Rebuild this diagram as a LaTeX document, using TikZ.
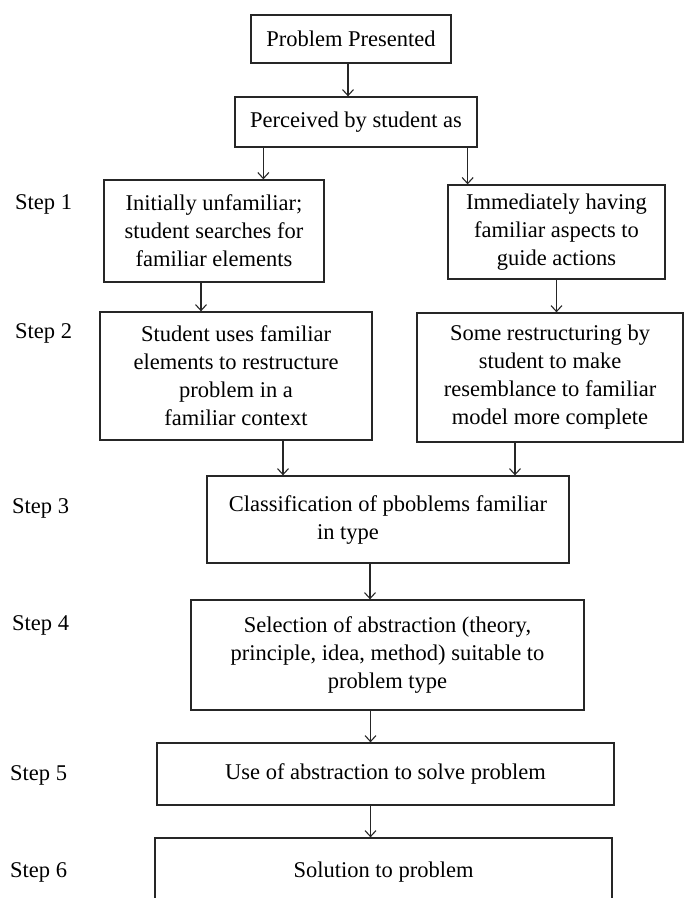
\documentclass[tikz,border=0pt]{standalone}
\usepackage{fontspec}
\setmainfont{Liberation Serif}
\usepackage{tikz}
\usetikzlibrary{arrows.meta, positioning}

\newcommand{\flowsize}{\fontsize{22.5}{28}\selectfont}

\begin{document}
\begin{tikzpicture}[x=1pt, y=-1pt, font=\flowsize,
  box/.style={draw=black!85, line width=1.3pt, inner sep=0pt, align=center},
  steplabel/.style={anchor=west, inner sep=0pt},
  arr/.style={-{Straight Barb[length=6pt,width=11pt]}, line width=1.1pt, draw=black!85}]
\useasboundingbox (0,0) rectangle (685,898);
\clip (0,0) rectangle (685,898);

% boxes
\node[box, minimum width=200, minimum height=48] (pp) at (351,39) {Problem Presented};
\node[box, minimum width=242, minimum height=50] (perc) at (356,122) {Perceived by student as};

\node[box, minimum width=220, minimum height=102] (unfam) at (214,231)
  {Initially unfamiliar;\\student searches for\\familiar elements};
\node[box, minimum width=217, minimum height=94] (famil) at (556.5,232)
  {Immediately having\\familiar aspects to\\guide actions};

\node[box, minimum width=272, minimum height=128] (uses) at (236,376)
  {Student uses familiar\\elements to restructure\\problem in a\\familiar context};
\node[box, minimum width=266, minimum height=129] (restr) at (550,377.5)
  {Some restructuring by\\student to make\\resemblance to familiar\\model more complete};

\node[box, minimum width=362, minimum height=87] (classif) at (388,519.5)
  {Classification of pboblems familiar\\in type\hspace*{80pt}};
\node[box, minimum width=393, minimum height=110] (select) at (387.5,655)
  {Selection of abstraction (theory,\\principle, idea, method) suitable to\\problem type};
\node[box, minimum width=457, minimum height=62] (useabs) at (385.5,774)
  {Use of abstraction to solve problem};
\node[box, minimum width=457, minimum height=68] (sol) at (383.5,872)
  {Solution to problem};

% step labels
\node[steplabel] (s1) at (15,204) {Step 1};
\node[steplabel] (s2) at (15,333) {Step 2};
\node[steplabel] (s3) at (12,508) {Step 3};
\node[steplabel] (s4) at (12,625) {Step 4};
\node[steplabel] (s5) at (10,775) {Step 5};
\node[steplabel] (s6) at (10,872) {Step 6};

% arrows
\draw[arr] ([xshift=-3pt]pp.south) -- ([xshift=-3pt]pp.south |- perc.north);
\draw[arr] ([xshift=29pt]perc.south west) -- ([xshift=29pt]perc.south west |- unfam.north);
\draw[arr] ([xshift=-10pt]perc.south east) -- ([xshift=-10pt]perc.south east |- famil.north);

\draw[arr] ([xshift=-13pt]unfam.south) -- ([xshift=-13pt]unfam.south |- uses.north);
\draw[arr] (famil.south) -- (famil.south |- restr.north);

\draw[arr] ([xshift=47pt]uses.south) -- ([xshift=47pt]uses.south |- classif.north);
\draw[arr] ([xshift=-35pt]restr.south) -- ([xshift=-35pt]restr.south |- classif.north);

\draw[arr] ([xshift=-18pt]classif.south) -- ([xshift=-18pt]classif.south |- select.north);
\draw[arr] ([xshift=-17pt]select.south) -- ([xshift=-17pt]select.south |- useabs.north);
\draw[arr] ([xshift=-15pt]useabs.south) -- ([xshift=-15pt]useabs.south |- sol.north);
\end{tikzpicture}
\end{document}
